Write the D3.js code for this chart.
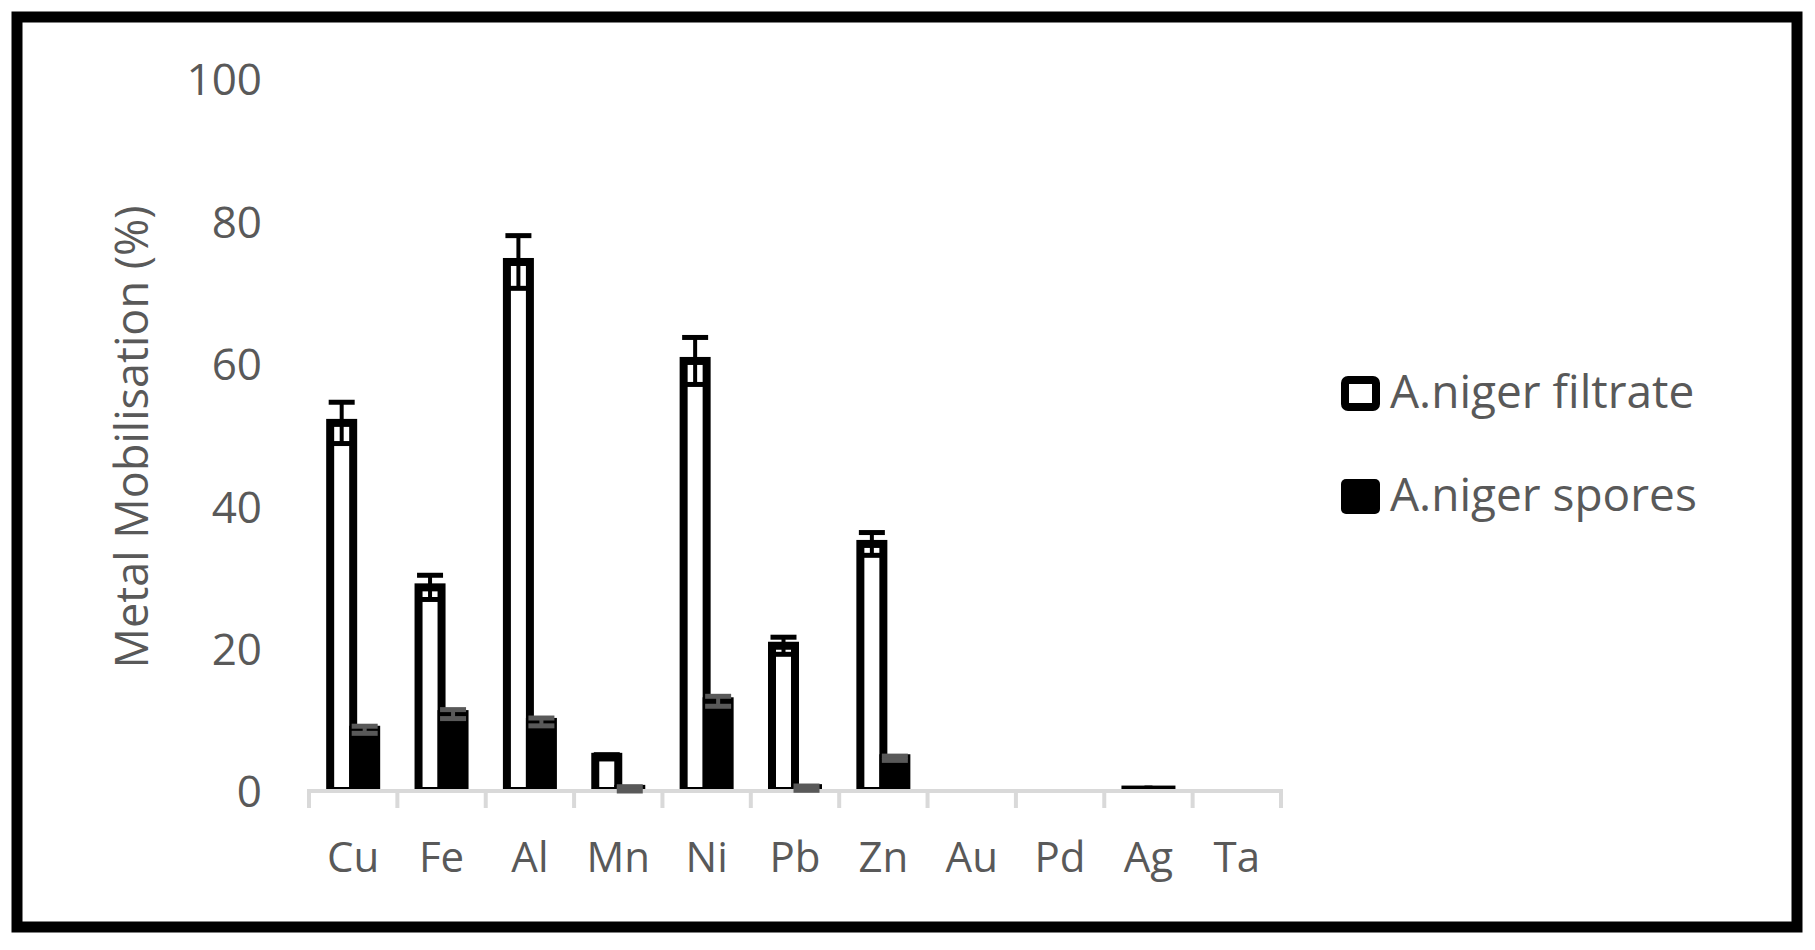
<!DOCTYPE html>
<html>
<head>
<meta charset="utf-8">
<script src="https://cdn.jsdelivr.net/npm/d3@7"></script>
<style>
  html, body { margin: 0; padding: 0; background: #fff; }
  svg { display: block; }
</style>
</head>
<body>
<script>
const categories = ["Cu", "Fe", "Al", "Mn", "Ni", "Pb", "Zn", "Au", "Pd", "Ag", "Ta"];
const seriesNames = ["A.niger filtrate", "A.niger spores"];
const filtrate    = [51.7, 28.6, 74.3, 4.8, 60.4, 20.4, 34.7, 0, 0, 0.2, 0];
const filtrateErr = [2.9, 1.7, 3.7, 0.3, 3.3, 1.2, 1.6, 0, 0, 0, 0];
const spores      = [8.6, 10.8, 9.7, 0.3, 12.6, 0.4, 4.6, 0, 0, 0.2, 0];
const sporesErr   = [0.5, 0.63, 0.55, 0.3, 0.7, 0.3, 0.3, 0, 0, 0, 0];
const yTicks = [0, 20, 40, 60, 80, 100];
const yTitle = "Metal Mobilisation (%)";

const W = 1815, H = 950;
const textColor = "#595959";
const font = "'Open Sans', sans-serif";

const svg = d3.select("body").append("svg").attr("width", W).attr("height", H);

// outer frame
svg.append("rect").attr("x", 17).attr("y", 17).attr("width", 1780).attr("height", 910)
  .attr("fill", "#fff").attr("stroke", "#000").attr("stroke-width", 11);

const x = d3.scaleBand().domain(categories).range([309, 1281]);
const xs = d3.scaleBand().domain(seriesNames).range([-23, 23]);
const y = d3.scaleLinear().domain([0, 100]).range([791, 79]);

// clip so bar strokes don't go below the axis
svg.append("defs").append("clipPath").attr("id", "plotClip")
  .append("rect").attr("x", 0).attr("y", 0).attr("width", W).attr("height", 789);

// Y axis labels (no line)
const yAxis = svg.append("g").attr("transform", "translate(262,0)")
  .call(d3.axisLeft(y).tickValues(yTicks).tickSize(0).tickPadding(0).tickFormat(d3.format("d")));
yAxis.select(".domain").remove();
yAxis.selectAll("text").attr("font-family", font).attr("font-size", 44)
  .attr("fill", textColor).attr("dy", "0.36em").attr("text-anchor", "end");

// Y title
svg.append("text")
  .attr("transform", `translate(148,${437}) rotate(-90)`)
  .attr("text-anchor", "middle")
  .attr("font-family", font).attr("font-size", 45).attr("fill", textColor)
  .text(yTitle);

// data rows
const rows = categories.map((c, i) => ({
  cat: c,
  vals: [
    { s: seriesNames[0], v: filtrate[i], e: filtrateErr[i] },
    { s: seriesNames[1], v: spores[i], e: sporesErr[i] }
  ]
}));

// X axis line + boundary ticks
const axisG = svg.append("g");
axisG.append("line").attr("x1", x.range()[0] - 2).attr("x2", x.range()[1] + 2)
  .attr("y1", y(0)).attr("y2", y(0)).attr("stroke", "#d9d9d9").attr("stroke-width", 4);
const bounds = categories.map(c => x(c)).concat([x.range()[1]]);
axisG.selectAll("line.tick").data(bounds).join("line").attr("class", "tick")
  .attr("x1", d => d).attr("x2", d => d).attr("y1", y(0)).attr("y2", y(0) + 17)
  .attr("stroke", "#d9d9d9").attr("stroke-width", 4);

// category labels via axis
const xAxis = svg.append("g").attr("transform", `translate(0,${y(0)})`)
  .call(d3.axisBottom(x).tickSize(0).tickPadding(0));
xAxis.select(".domain").remove();
xAxis.selectAll("text").attr("font-family", font).attr("font-size", 42)
  .attr("fill", textColor).attr("dy", "81px");

// bars
const barsG = svg.append("g").attr("clip-path", "url(#plotClip)");
const groups = barsG.selectAll("g.grp").data(rows).join("g").attr("class", "grp")
  .attr("transform", d => `translate(${x(d.cat) + x.bandwidth() / 2},0)`);
groups.selectAll("rect").data(d => d.vals.filter(v => v.v > 0)).join("rect")
  .attr("x", d => xs(d.s))
  .attr("width", xs.bandwidth())
  .attr("y", d => y(d.v))
  .attr("height", d => y(0) - y(d.v))
  .attr("fill", d => d.s === seriesNames[0] ? "#fff" : "#000")
  .attr("stroke", "#000").attr("stroke-width", 8);

// error bars
const errG = svg.append("g");
rows.forEach(r => {
  r.vals.forEach(v => {
    if (v.e <= 0) return;
    const cx = x(r.cat) + x.bandwidth() / 2 + xs(v.s) + xs.bandwidth() / 2;
    const isF = v.s === seriesNames[0];
    const col = isF ? "#000" : "#595959";
    const lw = isF ? 4 : 4;
    const cw = isF ? 5 : 5;
    const g = errG.append("g");
    g.append("line").attr("x1", cx).attr("x2", cx)
      .attr("y1", y(v.v + v.e)).attr("y2", y(Math.max(0, v.v - v.e)))
      .attr("stroke", col).attr("stroke-width", lw);
    [v.v + v.e, Math.max(0, v.v - v.e)].forEach(val => {
      g.append("line").attr("x1", cx - 13).attr("x2", cx + 13)
        .attr("y1", y(val)).attr("y2", y(val))
        .attr("stroke", col).attr("stroke-width", cw);
    });
  });
});

// legend
const legend = svg.append("g");
const legY = [393, 496];
seriesNames.forEach((s, i) => {
  if (i === 0) {
    legend.append("rect").attr("x", 1345).attr("y", legY[i] - 13).attr("width", 31).attr("height", 27)
      .attr("rx", 3).attr("fill", "#fff").attr("stroke", "#000").attr("stroke-width", 8);
  } else {
    legend.append("rect").attr("x", 1341).attr("y", legY[i] - 17).attr("width", 39).attr("height", 35)
      .attr("rx", 5).attr("fill", "#000");
  }
  legend.append("text").attr("x", 1390).attr("y", legY[i] + 15)
    .attr("font-family", font).attr("font-size", 46).attr("fill", textColor)
    .text(s);
});
</script>
</body>
</html>
